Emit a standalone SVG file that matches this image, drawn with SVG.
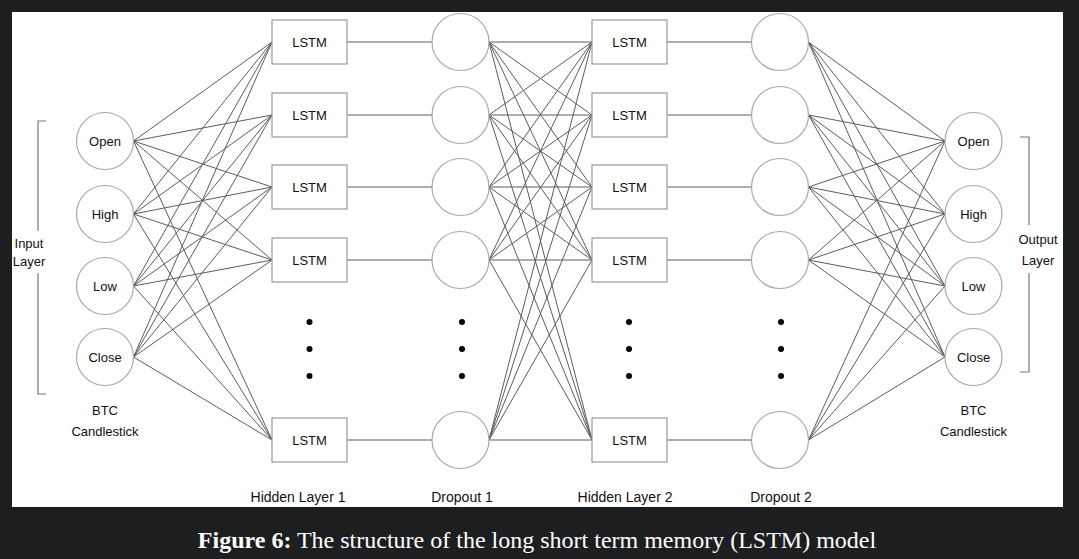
<svg xmlns="http://www.w3.org/2000/svg" width="1079" height="559" viewBox="0 0 1079 559">
<style>
.bg{fill:#1d1e20}
.panel{fill:#ffffff}
.node{fill:#ffffff;stroke:#a8a8a8;stroke-width:1.2}
.box{fill:#ffffff;stroke:#999999;stroke-width:1.2}
.conn line{stroke:#5c5c5c;stroke-width:1}
.lbl{font-family:"Liberation Sans",Arial,sans-serif;font-size:13px;fill:#111;text-anchor:middle}
.blbl{font-family:"Liberation Sans",Arial,sans-serif;font-size:14px;fill:#111;text-anchor:middle}
.brk{fill:none;stroke:#777;stroke-width:1.2}
.dot{fill:#000}
.cap{font-family:"Liberation Serif","Times New Roman",serif;font-size:24px;fill:#ffffff;text-anchor:middle}
</style>
<rect class="bg" x="0" y="0" width="1079" height="559"/>
<rect class="panel" x="12" y="12" width="1051" height="495"/>

<g id="connectors" class="conn">
<!-- input -> hidden 1 -->
<line x1="133.5" y1="141" x2="272" y2="42"/><line x1="133.5" y1="141" x2="272" y2="115"/><line x1="133.5" y1="141" x2="272" y2="187"/><line x1="133.5" y1="141" x2="272" y2="260"/><line x1="133.5" y1="141" x2="272" y2="440"/>
<line x1="133.5" y1="214" x2="272" y2="42"/><line x1="133.5" y1="214" x2="272" y2="115"/><line x1="133.5" y1="214" x2="272" y2="187"/><line x1="133.5" y1="214" x2="272" y2="260"/><line x1="133.5" y1="214" x2="272" y2="440"/>
<line x1="133.5" y1="286" x2="272" y2="42"/><line x1="133.5" y1="286" x2="272" y2="115"/><line x1="133.5" y1="286" x2="272" y2="187"/><line x1="133.5" y1="286" x2="272" y2="260"/><line x1="133.5" y1="286" x2="272" y2="440"/>
<line x1="133.5" y1="357" x2="272" y2="42"/><line x1="133.5" y1="357" x2="272" y2="115"/><line x1="133.5" y1="357" x2="272" y2="187"/><line x1="133.5" y1="357" x2="272" y2="260"/><line x1="133.5" y1="357" x2="272" y2="440"/>
<!-- hidden 1 -> dropout 1 -->
<line x1="347" y1="42" x2="432" y2="42"/><line x1="347" y1="115" x2="432" y2="115"/><line x1="347" y1="187" x2="432" y2="187"/><line x1="347" y1="260" x2="432" y2="260"/><line x1="347" y1="440" x2="432" y2="440"/>
<!-- dropout 1 -> hidden 2 -->
<line x1="489" y1="42" x2="592" y2="42"/><line x1="489" y1="42" x2="592" y2="115"/><line x1="489" y1="42" x2="592" y2="187"/><line x1="489" y1="42" x2="592" y2="260"/><line x1="489" y1="42" x2="592" y2="440"/>
<line x1="489" y1="115" x2="592" y2="42"/><line x1="489" y1="115" x2="592" y2="115"/><line x1="489" y1="115" x2="592" y2="187"/><line x1="489" y1="115" x2="592" y2="260"/><line x1="489" y1="115" x2="592" y2="440"/>
<line x1="489" y1="187" x2="592" y2="42"/><line x1="489" y1="187" x2="592" y2="115"/><line x1="489" y1="187" x2="592" y2="187"/><line x1="489" y1="187" x2="592" y2="260"/><line x1="489" y1="187" x2="592" y2="440"/>
<line x1="489" y1="260" x2="592" y2="42"/><line x1="489" y1="260" x2="592" y2="115"/><line x1="489" y1="260" x2="592" y2="187"/><line x1="489" y1="260" x2="592" y2="260"/><line x1="489" y1="260" x2="592" y2="440"/>
<line x1="489" y1="440" x2="592" y2="42"/><line x1="489" y1="440" x2="592" y2="115"/><line x1="489" y1="440" x2="592" y2="187"/><line x1="489" y1="440" x2="592" y2="260"/><line x1="489" y1="440" x2="592" y2="440"/>
<!-- hidden 2 -> dropout 2 -->
<line x1="667" y1="42" x2="751.5" y2="42"/><line x1="667" y1="115" x2="751.5" y2="115"/><line x1="667" y1="187" x2="751.5" y2="187"/><line x1="667" y1="260" x2="751.5" y2="260"/><line x1="667" y1="440" x2="751.5" y2="440"/>
<!-- dropout 2 -> output -->
<line x1="808.5" y1="42" x2="945" y2="141"/><line x1="808.5" y1="42" x2="945" y2="214"/><line x1="808.5" y1="42" x2="945" y2="286"/><line x1="808.5" y1="42" x2="945" y2="357"/>
<line x1="808.5" y1="115" x2="945" y2="141"/><line x1="808.5" y1="115" x2="945" y2="214"/><line x1="808.5" y1="115" x2="945" y2="286"/><line x1="808.5" y1="115" x2="945" y2="357"/>
<line x1="808.5" y1="187" x2="945" y2="141"/><line x1="808.5" y1="187" x2="945" y2="214"/><line x1="808.5" y1="187" x2="945" y2="286"/><line x1="808.5" y1="187" x2="945" y2="357"/>
<line x1="808.5" y1="260" x2="945" y2="141"/><line x1="808.5" y1="260" x2="945" y2="214"/><line x1="808.5" y1="260" x2="945" y2="286"/><line x1="808.5" y1="260" x2="945" y2="357"/>
<line x1="808.5" y1="440" x2="945" y2="141"/><line x1="808.5" y1="440" x2="945" y2="214"/><line x1="808.5" y1="440" x2="945" y2="286"/><line x1="808.5" y1="440" x2="945" y2="357"/>
</g>

<!-- input layer -->
<g id="in-open"><circle class="node" cx="105" cy="141" r="28.5"/><text class="lbl" x="105" y="145.5">Open</text></g>
<g id="in-high"><circle class="node" cx="105" cy="214" r="28.5"/><text class="lbl" x="105" y="218.5">High</text></g>
<g id="in-low"><circle class="node" cx="105" cy="286" r="28.5"/><text class="lbl" x="105" y="290.5">Low</text></g>
<g id="in-close"><circle class="node" cx="105" cy="357" r="28.5"/><text class="lbl" x="105" y="361.5">Close</text></g>

<!-- hidden layer 1 -->
<g id="h1-1"><rect class="box" x="272" y="20" width="75" height="44"/><text class="lbl" x="309.5" y="46.5">LSTM</text></g>
<g id="h1-2"><rect class="box" x="272" y="93" width="75" height="44"/><text class="lbl" x="309.5" y="119.5">LSTM</text></g>
<g id="h1-3"><rect class="box" x="272" y="165" width="75" height="44"/><text class="lbl" x="309.5" y="191.5">LSTM</text></g>
<g id="h1-4"><rect class="box" x="272" y="238" width="75" height="44"/><text class="lbl" x="309.5" y="264.5">LSTM</text></g>
<g id="h1-n"><rect class="box" x="272" y="418" width="75" height="44"/><text class="lbl" x="309.5" y="444.5">LSTM</text></g>

<!-- dropout 1 -->
<g id="d1-1"><circle class="node" cx="460.5" cy="42" r="28.5"/></g>
<g id="d1-2"><circle class="node" cx="460.5" cy="115" r="28.5"/></g>
<g id="d1-3"><circle class="node" cx="460.5" cy="187" r="28.5"/></g>
<g id="d1-4"><circle class="node" cx="460.5" cy="260" r="28.5"/></g>
<g id="d1-n"><circle class="node" cx="460.5" cy="440" r="28.5"/></g>

<!-- hidden layer 2 -->
<g id="h2-1"><rect class="box" x="592" y="20" width="75" height="44"/><text class="lbl" x="629.5" y="46.5">LSTM</text></g>
<g id="h2-2"><rect class="box" x="592" y="93" width="75" height="44"/><text class="lbl" x="629.5" y="119.5">LSTM</text></g>
<g id="h2-3"><rect class="box" x="592" y="165" width="75" height="44"/><text class="lbl" x="629.5" y="191.5">LSTM</text></g>
<g id="h2-4"><rect class="box" x="592" y="238" width="75" height="44"/><text class="lbl" x="629.5" y="264.5">LSTM</text></g>
<g id="h2-n"><rect class="box" x="592" y="418" width="75" height="44"/><text class="lbl" x="629.5" y="444.5">LSTM</text></g>

<!-- dropout 2 -->
<g id="d2-1"><circle class="node" cx="780" cy="42" r="28.5"/></g>
<g id="d2-2"><circle class="node" cx="780" cy="115" r="28.5"/></g>
<g id="d2-3"><circle class="node" cx="780" cy="187" r="28.5"/></g>
<g id="d2-4"><circle class="node" cx="780" cy="260" r="28.5"/></g>
<g id="d2-n"><circle class="node" cx="780" cy="440" r="28.5"/></g>

<!-- output layer -->
<g id="out-open"><circle class="node" cx="973.5" cy="141" r="28.5"/><text class="lbl" x="973.5" y="145.5">Open</text></g>
<g id="out-high"><circle class="node" cx="973.5" cy="214" r="28.5"/><text class="lbl" x="973.5" y="218.5">High</text></g>
<g id="out-low"><circle class="node" cx="973.5" cy="286" r="28.5"/><text class="lbl" x="973.5" y="290.5">Low</text></g>
<g id="out-close"><circle class="node" cx="973.5" cy="357" r="28.5"/><text class="lbl" x="973.5" y="361.5">Close</text></g>

<!-- ellipsis dots -->
<g id="dots">
<circle class="dot" cx="309.5" cy="322" r="3"/><circle class="dot" cx="309.5" cy="349" r="3"/><circle class="dot" cx="309.5" cy="376" r="3"/>
<circle class="dot" cx="462" cy="322" r="3"/><circle class="dot" cx="462" cy="349" r="3"/><circle class="dot" cx="462" cy="376" r="3"/>
<circle class="dot" cx="629" cy="322" r="3"/><circle class="dot" cx="629" cy="349" r="3"/><circle class="dot" cx="629" cy="376" r="3"/>
<circle class="dot" cx="781" cy="322" r="3"/><circle class="dot" cx="781" cy="349" r="3"/><circle class="dot" cx="781" cy="376" r="3"/>
</g>

<!-- brackets and side labels -->
<g id="input-bracket">
<path class="brk" d="M46,121 H38 V231 M38,273 V394 H46"/>
<text class="lbl" x="29" y="248">Input</text>
<text class="lbl" x="29" y="266">Layer</text>
</g>
<g id="output-bracket">
<path class="brk" d="M1020,137 H1029 V225 M1029,273 V372 H1020"/>
<text class="lbl" x="1038" y="244">Output</text>
<text class="lbl" x="1038" y="265">Layer</text>
</g>

<g id="labels">
<text class="lbl" x="105" y="415">BTC</text>
<text class="lbl" x="105" y="436">Candlestick</text>
<text class="lbl" x="973.5" y="415">BTC</text>
<text class="lbl" x="973.5" y="436">Candlestick</text>
<text class="blbl" x="298" y="502">Hidden Layer 1</text>
<text class="blbl" x="462" y="502">Dropout 1</text>
<text class="blbl" x="625" y="502">Hidden Layer 2</text>
<text class="blbl" x="781" y="502">Dropout 2</text>
</g>

<text class="cap" x="537" y="548"><tspan font-weight="bold">Figure 6:</tspan> The structure of the long short term memory (LSTM) model</text>
</svg>
